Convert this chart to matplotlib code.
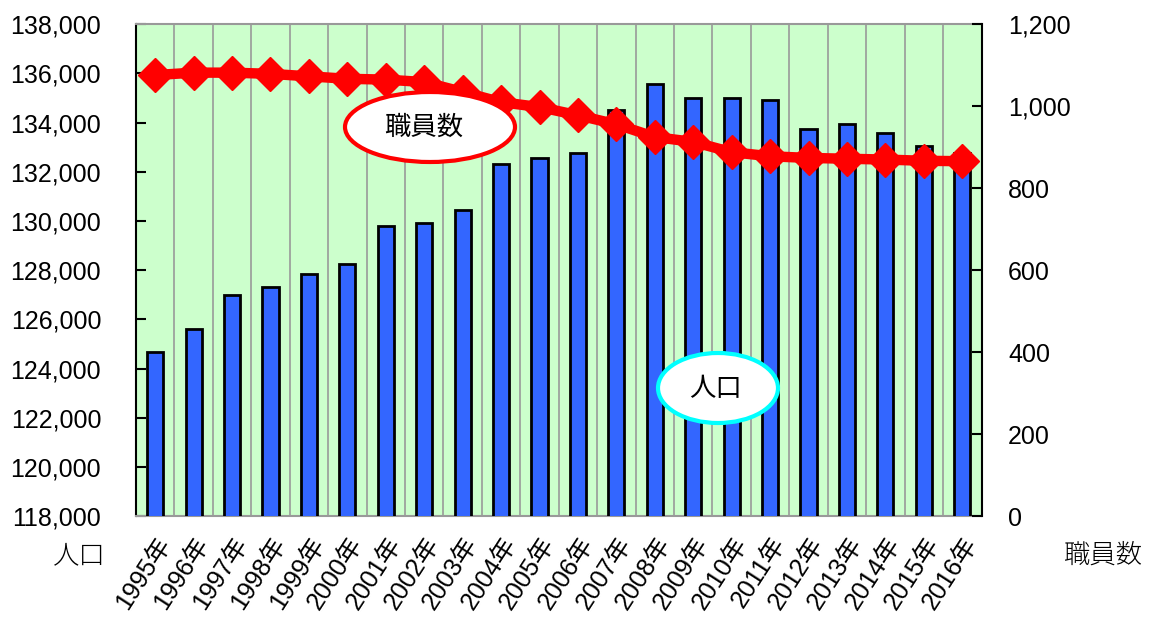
import matplotlib
matplotlib.use('Agg')
import matplotlib.pyplot as plt
from matplotlib.patches import Ellipse
from matplotlib.ticker import FuncFormatter

plt.rcParams['font.family'] = ['Liberation Sans', 'Noto Sans CJK JP']

years = ['1995年', '1996年', '1997年', '1998年', '1999年', '2000年', '2001年', '2002年',
         '2003年', '2004年', '2005年', '2006年', '2007年', '2008年', '2009年', '2010年',
         '2011年', '2012年', '2013年', '2014年', '2015年', '2016年']
population = [124670, 125600, 126980, 127310, 127840, 128240, 129790, 129910,
              130440, 132310, 132550, 132760, 134500, 135560, 134990, 134990,
              134940, 133740, 133930, 133580, 133050, 132760]
staff = [1076, 1082, 1082, 1079, 1073, 1067, 1065, 1059,
         1035, 1010, 998, 978, 956, 925, 913, 888,
         878, 874, 872, 870, 867, 866]

fig = plt.figure(figsize=(11.52, 6.22), dpi=100)
ax = fig.add_axes([0.118, 0.170, 0.734, 0.791])
ax.set_facecolor('#CCFFCC')

x = list(range(len(years)))
ax.bar(x, population, width=0.42, color='#3366FF', edgecolor='black', linewidth=2, zorder=3)

ax.set_xlim(-0.5, len(years) - 0.5)
ax.set_ylim(118000, 138000)
ax.set_yticks(range(118000, 138001, 2000))
ax.yaxis.set_major_formatter(FuncFormatter(lambda v, p: f'{int(v):,}'))

# vertical grid lines at category borders
for i in range(1, len(years)):
    ax.axvline(i - 0.5, color='#999999', linewidth=1.2, zorder=1)

ax.set_xticks(x)
ax.set_xticklabels(years, rotation=57, ha='right', va='top', rotation_mode='anchor')
ax.tick_params(axis='x', length=0, pad=12, labelsize=18)
ax.tick_params(axis='y', direction='in', length=7, width=1.5, pad=25, labelsize=18)

for s in ['top', 'bottom']:
    ax.spines[s].set_color('#999999')
    ax.spines[s].set_linewidth(1.5)
ax.spines['left'].set_linewidth(1.5)
ax.spines['right'].set_visible(False)

ax2 = ax.twinx()
ax2.plot(x, staff, color='red', linewidth=7.5, marker='D', markersize=17, zorder=4)
ax2.set_ylim(0, 1200)
ax2.set_yticks(range(0, 1201, 200))
ax2.yaxis.set_major_formatter(FuncFormatter(lambda v, p: f'{int(v):,}'))
ax2.tick_params(axis='y', direction='in', length=7, width=1.5, pad=19, labelsize=18)
ax2.spines['right'].set_linewidth(1.5)
ax2.spines['left'].set_visible(False)
for s in ['top', 'bottom']:
    ax2.spines[s].set_visible(False)

# callouts
e1 = Ellipse((430 / 1152, 1 - 127 / 622), 170 / 1152, 70 / 622, transform=fig.transFigure,
             facecolor='white', edgecolor='red', linewidth=3, zorder=10)
fig.patches.append(e1)
fig.text(424 / 1152, 1 - 127 / 622, '職員数', ha='center', va='center', fontsize=19,
         family=['Noto Sans CJK JP'], zorder=11)

e2 = Ellipse((718 / 1152, 1 - 388 / 622), 120 / 1152, 70 / 622, transform=fig.transFigure,
             facecolor='white', edgecolor='#00FFFF', linewidth=3, zorder=10)
fig.patches.append(e2)
fig.text(715 / 1152, 1 - 388 / 622, '人口', ha='center', va='center', fontsize=19,
         family=['Noto Sans CJK JP'], zorder=11)

fig.text(79 / 1152, 1 - 555 / 622, '人口', ha='center', va='center', fontsize=19,
         family=['Noto Sans CJK JP'], fontweight='light')
fig.text(1103 / 1152, 1 - 555 / 622, '職員数', ha='center', va='center', fontsize=19,
         family=['Noto Sans CJK JP'], fontweight='light')

fig.savefig('out.png', dpi=100)
